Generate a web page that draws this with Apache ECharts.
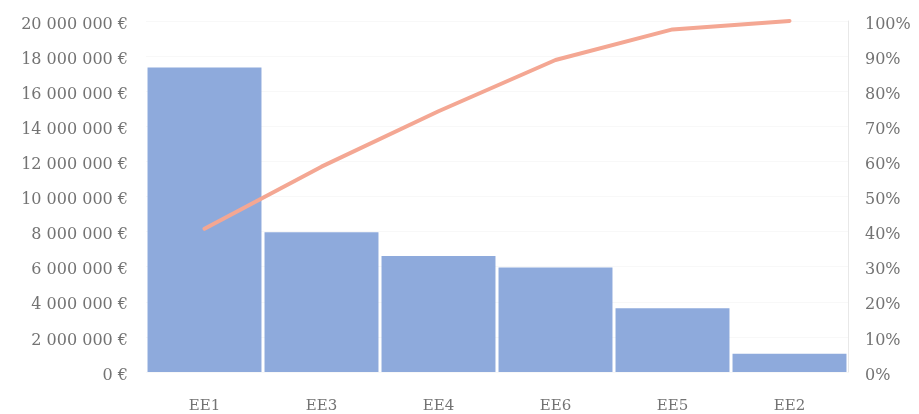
<!DOCTYPE html>
<html>
<head>
<meta charset="utf-8">
<script src="https://cdn.jsdelivr.net/npm/echarts@6/dist/echarts.min.js"></script>
<style>
html,body{margin:0;padding:0;background:#fff;}
#chart{width:919px;height:414px;}
</style>
</head>
<body>
<div id="chart"></div>
<script>
var categories = ['EE1', 'EE3', 'EE4', 'EE6', 'EE5', 'EE2'];
var amounts = [17350000, 7970000, 6610000, 5950000, 3630000, 1040000];
var cumulativePct = [40.8, 58.5, 74.3, 88.9, 97.6, 100];
var leftTicks = [0, 20000000, 2000000];
var rightTicks = [0, 100, 10];

function fmtEuro(v) {
  var s = String(Math.round(v));
  s = s.replace(/\B(?=(\d{3})+(?!\d))/g, ' ');
  return '{g| }\n{v|' + s + ' €}';
}
function fmtPct(v) {
  return '{g| }\n{v|' + v + '%}';
}

var font = 'DejaVu Serif';
var labelColor = '#737373';
var richStyle = {
  g: { fontSize: 6, lineHeight: 7 },
  v: { fontSize: 16, lineHeight: 19, fontFamily: font, color: labelColor }
};
var chart = echarts.init(document.getElementById('chart'));
chart.setOption({
  animation: false,
  backgroundColor: '#ffffff',
  grid: { left: 146, right: 71, top: 21, bottom: 40 },
  xAxis: {
    type: 'category',
    data: categories,
    axisLine: { show: false },
    axisTick: { show: false },
    axisLabel: { color: labelColor, fontFamily: font, fontSize: 15, margin: 27 }
  },
  yAxis: [
    {
      type: 'value',
      min: leftTicks[0], max: leftTicks[1], interval: leftTicks[2],
      axisLine: { show: false },
      axisTick: { show: false },
      splitLine: { show: true, lineStyle: { color: '#f8f8f8', width: 1 } },
      axisLabel: { color: labelColor, fontFamily: font, fontSize: 16, margin: 18, formatter: fmtEuro, rich: richStyle }
    },
    {
      type: 'value',
      min: rightTicks[0], max: rightTicks[1], interval: rightTicks[2],
      position: 'right',
      axisLine: { show: true, lineStyle: { color: '#e8e8e8', width: 1 } },
      axisTick: { show: false },
      splitLine: { show: false },
      axisLabel: { color: labelColor, fontFamily: font, fontSize: 16, margin: 17, formatter: fmtPct, rich: richStyle }
    }
  ],
  series: [
    {
      type: 'bar',
      data: amounts,
      barCategoryGap: '2.6%',
      itemStyle: { color: '#8eaadc' }
    },
    {
      type: 'line',
      yAxisIndex: 1,
      data: cumulativePct,
      symbol: 'none',
      lineStyle: { color: '#f4a793', width: 4, cap: 'round' }
    }
  ]
});
</script>
</body>
</html>
